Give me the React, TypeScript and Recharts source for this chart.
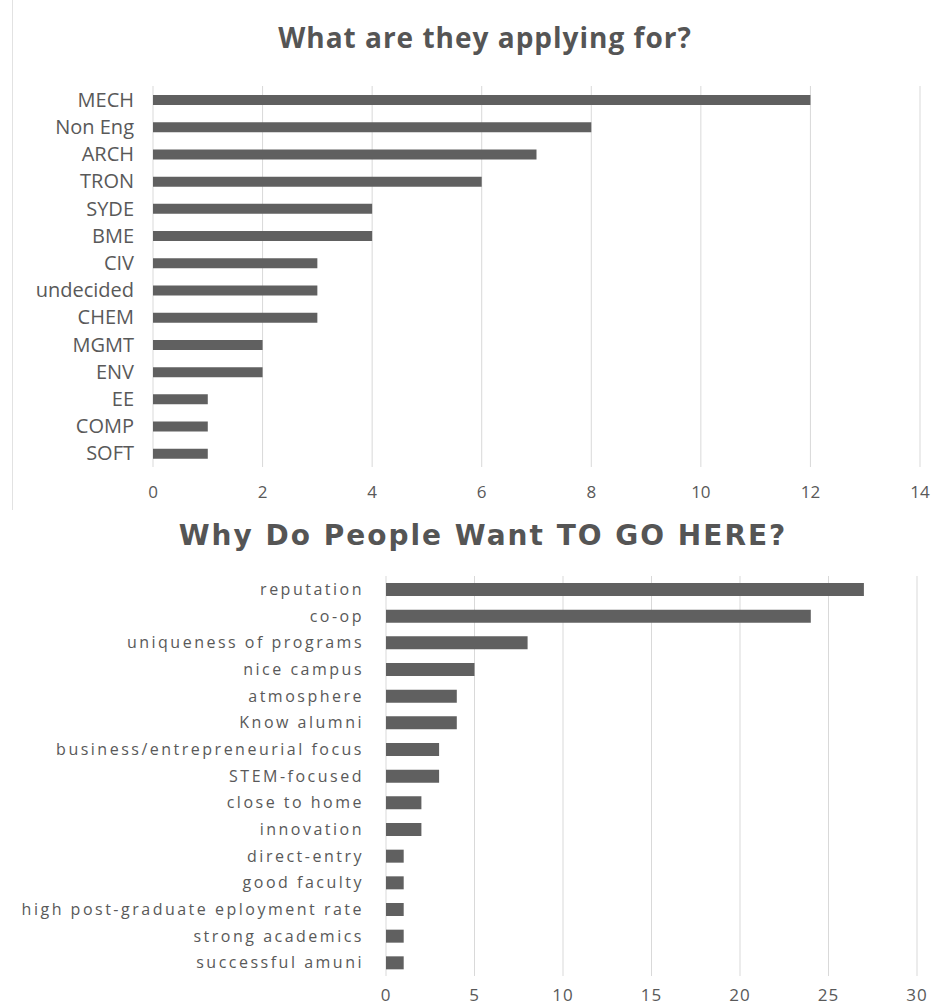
import { BarChart, Bar, XAxis, YAxis, CartesianGrid } from "recharts"

const programs = ["MECH", "Non Eng", "ARCH", "TRON", "SYDE", "BME", "CIV", "undecided", "CHEM", "MGMT", "ENV", "EE", "COMP", "SOFT"]
const programCounts = [12, 8, 7, 6, 4, 4, 3, 3, 3, 2, 2, 1, 1, 1]
const programTicks = [0, 2, 4, 6, 8, 10, 12, 14]

const reasons = [
  "reputation",
  "co-op",
  "uniqueness of programs",
  "nice campus",
  "atmosphere",
  "Know alumni",
  "business/entrepreneurial focus",
  "STEM-focused",
  "close to home",
  "innovation",
  "direct-entry",
  "good faculty",
  "high post-graduate eployment rate",
  "strong academics",
  "successful amuni",
]
const reasonCounts = [27, 24, 8, 5, 4, 4, 3, 3, 2, 2, 1, 1, 1, 1, 1]
const reasonTicks = [0, 5, 10, 15, 20, 25, 30]

const programData = programs.map((name, i) => ({ name, value: programCounts[i] }))
const reasonData = reasons.map((name, i) => ({ name, value: reasonCounts[i] }))

const textColor = "#595959"
const barColor = "#606060"
const gridColor = "#d9d9d9"

export default function App() {
  return (
    <div style={{ position: "absolute", left: 0, top: 0, width: 933, height: 1006, background: "#fff" }}>
      <div style={{ position: "absolute", left: 12, top: 0, width: 1, height: 510, background: "#e2e2e2" }} />
      <div
        style={{
          position: "absolute",
          left: 0,
          width: 970,
          top: 18,
          textAlign: "center",
          fontFamily: "Open Sans",
          fontWeight: 700,
          fontSize: 28,
          letterSpacing: 1,
          color: "#555",
        }}
      >
        What are they applying for?
      </div>
      <div style={{ position: "absolute", left: 0, top: 0 }}>
        <BarChart width={933} height={515} data={programData} layout="vertical" margin={{ top: 86, right: 13, bottom: 8, left: 0 }}>
          <CartesianGrid horizontal={false} stroke={gridColor} />
          <XAxis
            type="number"
            domain={[0, 14]}
            ticks={programTicks}
            axisLine={false}
            tickLine={false}
            tickMargin={13}
            height={40}
            tick={{ fill: textColor, fontSize: 17, fontFamily: "Open Sans" }}
          />
          <YAxis
            type="category"
            dataKey="name"
            width={153}
            axisLine={false}
            tickLine={false}
            tickMargin={13}
            interval={0}
            tick={{ fill: textColor, fontSize: 20, fontFamily: "Open Sans" }}
          />
          <Bar dataKey="value" fill={barColor} barSize={10} isAnimationActive={false} />
        </BarChart>
      </div>
      <div
        style={{
          position: "absolute",
          left: 0,
          width: 966,
          top: 519,
          textAlign: "center",
          fontFamily: "DejaVu Sans",
          fontWeight: 700,
          fontSize: 28,
          letterSpacing: 2,
          color: "#555",
        }}
      >
        Why Do People Want TO GO HERE?
      </div>
      <div style={{ position: "absolute", left: 0, top: 560 }}>
        <BarChart width={933} height={446} data={reasonData} layout="vertical" margin={{ top: 16, right: 16, bottom: 5, left: 0 }}>
          <CartesianGrid horizontal={false} stroke={gridColor} />
          <XAxis
            type="number"
            domain={[0, 30]}
            ticks={reasonTicks}
            axisLine={false}
            tickLine={false}
            tickMargin={7}
            height={25}
            tick={{ fill: textColor, fontSize: 17, fontFamily: "Open Sans", letterSpacing: 1 }}
          />
          <YAxis
            type="category"
            dataKey="name"
            width={386}
            axisLine={false}
            tickLine={false}
            tickMargin={16}
            interval={0}
            tick={{ fill: textColor, fontSize: 16, fontFamily: "Open Sans", letterSpacing: 2.5 }}
          />
          <Bar dataKey="value" fill={barColor} barSize={13} isAnimationActive={false} />
        </BarChart>
      </div>
    </div>
  )
}
